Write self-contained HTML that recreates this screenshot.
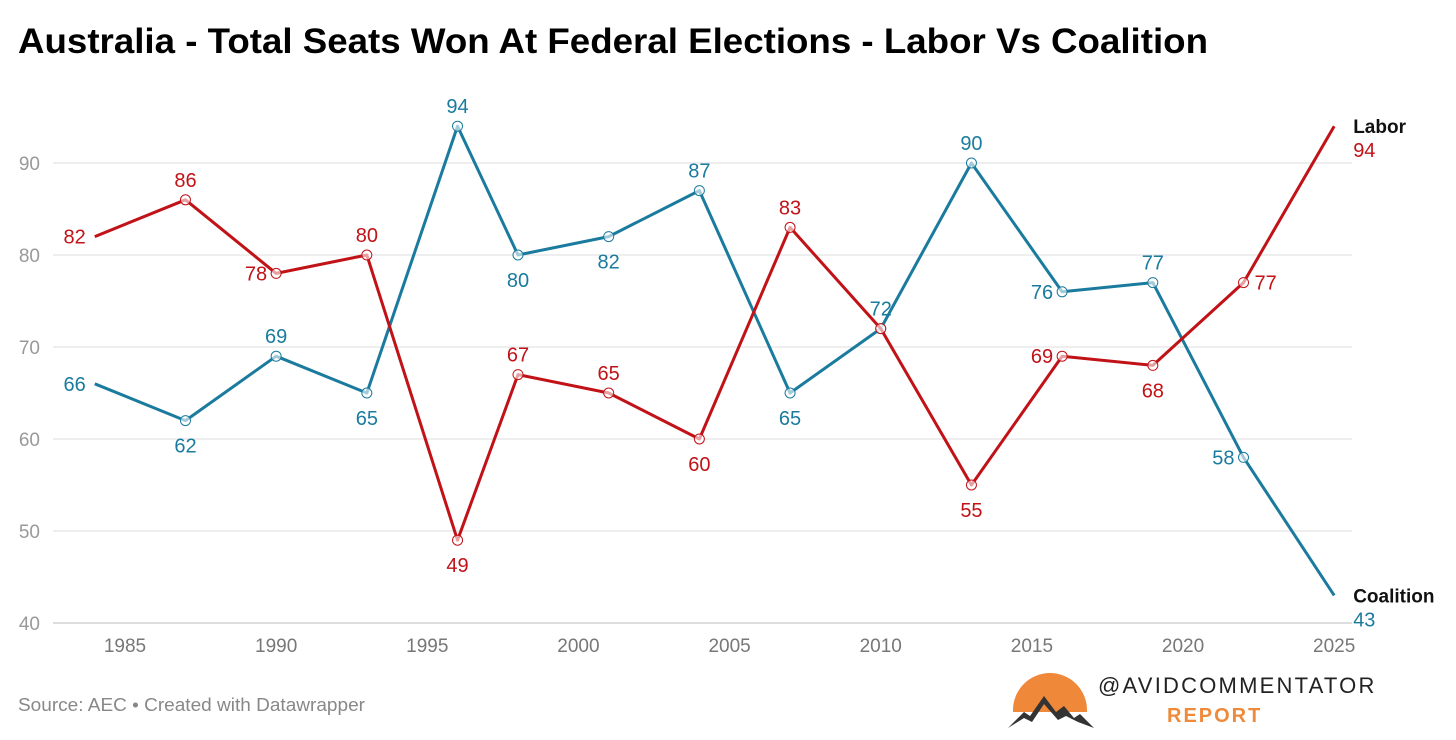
<!DOCTYPE html>
<html><head><meta charset="utf-8"><style>
body{margin:0;background:#fff;width:1456px;height:735px;overflow:hidden;font-family:"Liberation Sans",sans-serif}
svg text{font-family:"Liberation Sans",sans-serif}
</style></head><body>
<svg id="chart" width="1456" height="735">
<text x="18" y="53" font-size="35" font-weight="bold" fill="#000" textLength="1190" lengthAdjust="spacingAndGlyphs">Australia - Total Seats Won At Federal Elections - Labor Vs Coalition</text>
<g id="grid"></g><g id="lines"></g><g id="labels"></g>
<text x="18" y="711" font-size="18" fill="#888" textLength="347" lengthAdjust="spacingAndGlyphs">Source: AEC • Created with Datawrapper</text>
<g>
<circle cx="1050" cy="710" r="37" fill="#f0883a"/>
<rect x="1005" y="712" width="95" height="25" fill="#fff"/>
<polygon points="1008,728 1024,712 1030,716 1044,696 1056,712 1064,706 1074,718 1080,714 1094,728 1078,722 1066,716 1058,720 1044,704 1032,722 1024,718" fill="#333"/>
<text x="1098" y="693" font-size="22" letter-spacing="3.6" fill="#222" textLength="280" lengthAdjust="spacing">@AVIDCOMMENTATOR</text>
<text x="1167" y="722" font-size="20" font-weight="bold" letter-spacing="2" fill="#ef8a3a">REPORT</text>
</g>
</svg>
<script>
const years=[1984,1987,1990,1993,1996,1998,2001,2004,2007,2010,2013,2016,2019,2022,2025];
const labor=[82,86,78,80,49,67,65,60,83,72,55,69,68,77,94];
const coalition=[66,62,69,65,94,80,82,87,65,72,90,76,77,58,43];
const laborPos=['l','a','l','a','b','a','a','b','a','n','b','l','b','r','e'];
const coalPos=['l','b','a','b','a','b','b','a','b','a','a','l','a','l','e'];
const yTicks=[40,50,60,70,80,90];
const xTicks=[1985,1990,1995,2000,2005,2010,2015,2020,2025];
const NS='http://www.w3.org/2000/svg';
const X=yr=>125+(yr-1985)*30.23;
const Y=v=>623-(v-40)*9.2;
function mk(tag,attrs,parent){const e=document.createElementNS(NS,tag);for(const k in attrs)e.setAttribute(k,attrs[k]);document.getElementById(parent).appendChild(e);return e;}
yTicks.forEach(v=>{
 const l=mk('line',{x1:53,x2:1352,y1:Y(v),y2:Y(v),stroke:v===40?'#bbb':'#ddd','stroke-width':1},'grid');
 
 
 const t=mk('text',{x:40,y:Y(v)+7,'font-size':19,fill:'#999','text-anchor':'end'},'grid');t.textContent=v;
 
 
});
xTicks.forEach(yr=>{
 const t=mk('text',{x:X(yr),y:652,'font-size':19,fill:'#777','text-anchor':'middle'},'grid');t.textContent=yr;
 
 
});
function series(vals,pos,color,name,endName){
 const p=mk('polyline',{points:vals.map((v,i)=>X(years[i])+','+Y(v)).join(' '),fill:'none',stroke:color,'stroke-width':3,'stroke-linejoin':'round'},'lines');
 
 
 vals.forEach((v,i)=>{
  const x=X(years[i]),y=Y(v);
  if(i>0&&i<vals.length-1){
   const c=mk('circle',{cx:x,cy:y,r:5,fill:'#fff','fill-opacity':0.6,stroke:color,'stroke-width':1},'lines');
   
   
  }
  const ps=pos[i];if(ps==='n')return;
  let tx=x,ty=y,anc='middle';
  if(ps==='a'){ty=y-13;}else if(ps==='b'){ty=y+32;}else if(ps==='l'){tx=x-9;ty=y+7;anc='end';}else if(ps==='r'){tx=x+11;ty=y+7;anc='start';}else if(ps==='e'){tx=x+19;ty=y+31;anc='start';}
  const t=mk('text',{x:tx,y:ty,'font-size':20,fill:color,'text-anchor':anc},'labels');t.textContent=v;
  
  
  if(ps==='e'){
   const n=mk('text',{x:tx,y:y+7,'font-size':19,'font-weight':'bold',fill:'#111','text-anchor':'start'},'labels');n.textContent=endName;
   
   
  }
 });
}
series(coalition,coalPos,'#1a7b9e','coalition','Coalition');
series(labor,laborPos,'#c11217','labor','Labor');
</script>
</body></html>
